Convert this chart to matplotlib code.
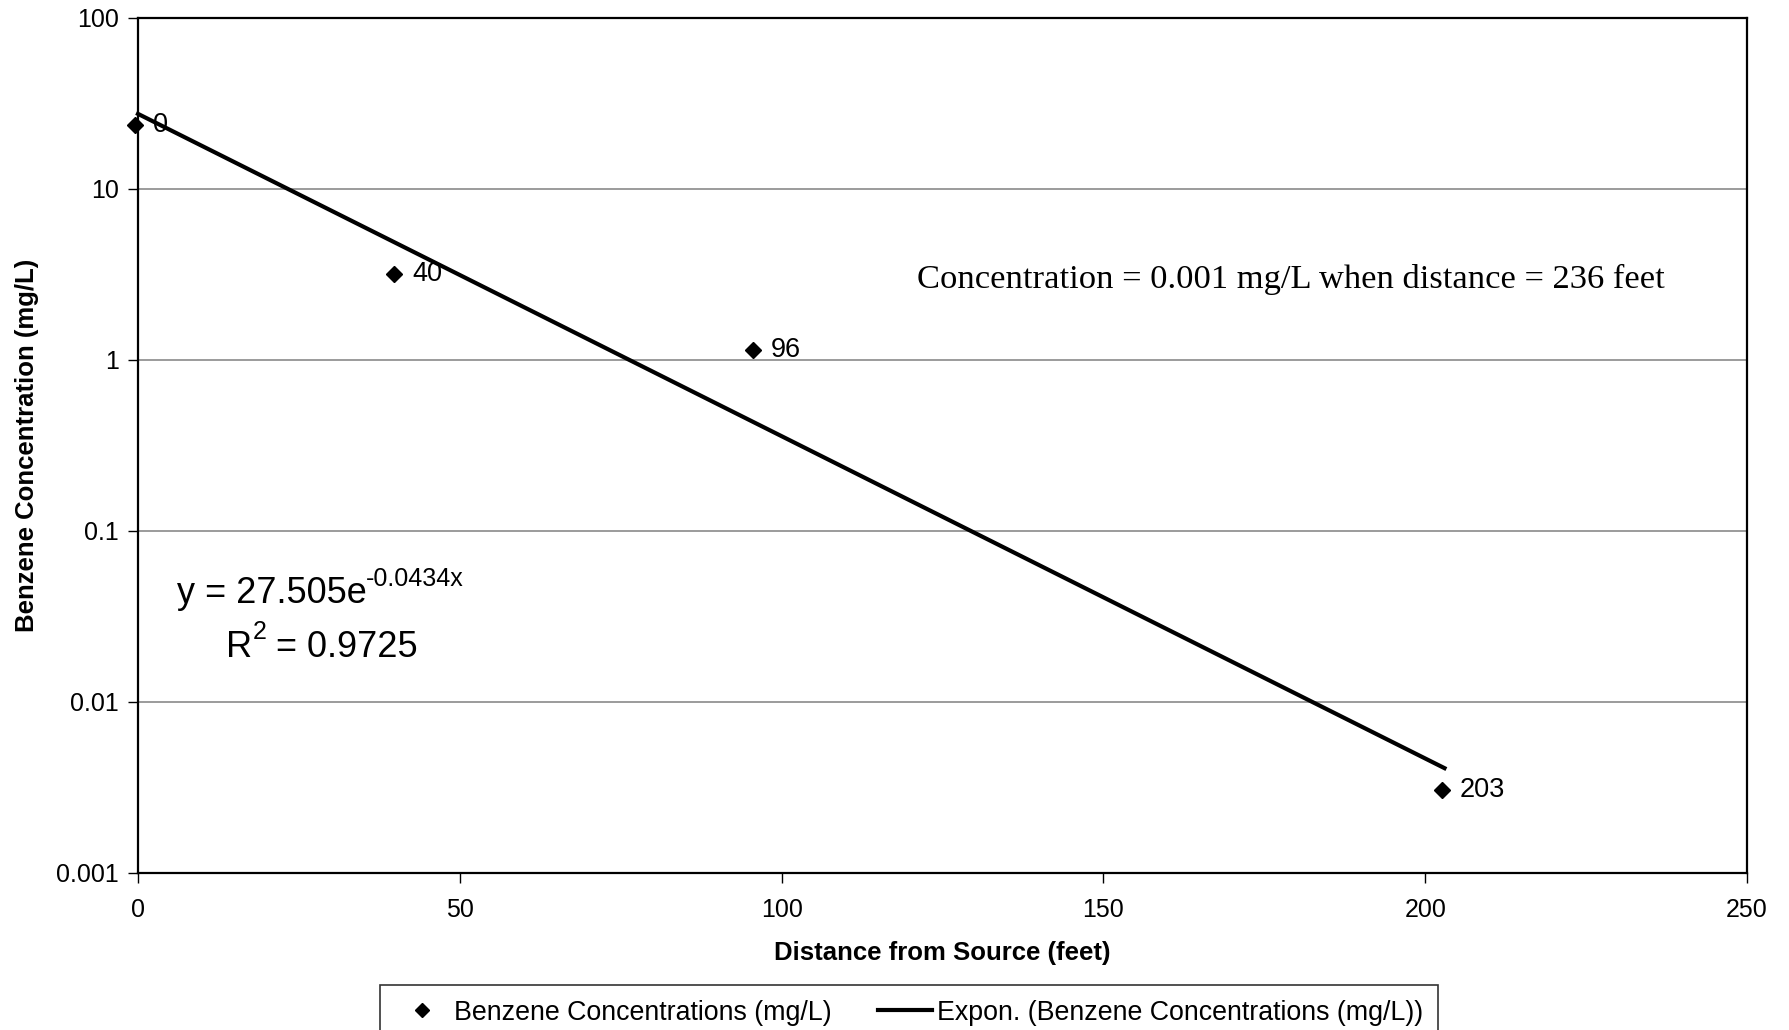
#!/usr/bin/env python3
"""Benzene concentration vs distance from source, log-scale with exponential trend."""
import numpy as np
import matplotlib
matplotlib.use("Agg")
import matplotlib.pyplot as plt
from matplotlib.lines import Line2D

plt.rcParams["font.family"] = ["Liberation Sans", "DejaVu Sans"]

# data
distance = [-0.5, 39.8, 95.5, 202.6]
concentration = [23.7, 3.18, 1.14, 0.00306]
point_labels = ["0", "40", "96", "203"]

# exponential trend fit shown on the chart
fit_a = 27.505
fit_b = -0.0434
fit_x = [0, 203]

x_ticks = [0, 50, 100, 150, 200, 250]
y_ticks = [0.001, 0.01, 0.1, 1, 10, 100]
y_tick_labels = ["0.001", "0.01", "0.1", "1", "10", "100"]

W, H = 1790, 1030
fig = plt.figure(figsize=(W / 100, H / 100), dpi=100)
left, right, top, bottom = 138, 1747, 18, 873
ax = fig.add_axes([left / W, 1 - bottom / H, (right - left) / W, (bottom - top) / H])

ax.set_yscale("log")
ax.set_xlim(0, 250)
ax.set_ylim(0.001, 100)
ax.set_xticks(x_ticks)
ax.set_xticklabels([str(t) for t in x_ticks])
ax.set_yticks(y_ticks)
ax.set_yticklabels(y_tick_labels)
ax.minorticks_off()
ax.tick_params(axis="both", labelsize=18, length=7, width=1, color="black", direction="out")
ax.tick_params(axis="y", pad=7)
ax.tick_params(axis="x", pad=11)

for y in y_ticks[1:-1]:
    ax.axhline(y, color="#808080", lw=1.1, zorder=1)
for s in ax.spines.values():
    s.set_color("black")
    s.set_linewidth(1.6)

xs = np.linspace(fit_x[0], fit_x[1], 200)
ax.plot(xs, fit_a * np.exp(fit_b * xs), color="black", lw=3, zorder=3, clip_on=False)
ax.plot(distance, concentration, ls="none", marker="D", ms=8, color="black", zorder=4,
        clip_on=False)
for x, y, lab in zip(distance, concentration, point_labels):
    ax.annotate(lab, (x, y), xytext=(13, 0), textcoords="offset points",
                ha="left", va="center", fontsize=19.5, annotation_clip=False)

ax.set_xlabel("Distance from Source (feet)", fontsize=18.5, fontweight="bold", labelpad=14)
ax.set_ylabel("Benzene Concentration (mg/L)", fontsize=18.5, fontweight="bold", labelpad=12)

# trend equation, superscripts as separate small texts
eq1 = ax.text(0.024, 0.316, "y = 27.505e", transform=ax.transAxes,
              ha="left", va="baseline", fontsize=26)
ax.annotate("-0.0434x", xy=(1, 1), xycoords=eq1, xytext=(0, -2), textcoords="offset points",
            ha="left", va="center", fontsize=18)
eq2 = ax.text(0.055, 0.253, "R", transform=ax.transAxes,
              ha="left", va="baseline", fontsize=26)
sup2 = ax.annotate("2", xy=(1, 1), xycoords=eq2, xytext=(0, -2), textcoords="offset points",
                   ha="left", va="center", fontsize=18)
ax.annotate(" = 0.9725", xy=(1, 0), xycoords=(sup2, eq2),
            ha="left", va="bottom", fontsize=26)

ax.text(0.484, 0.694, "Concentration = 0.001 mg/L when distance = 236 feet",
        transform=ax.transAxes, ha="left", va="center", fontsize=24.8,
        family=["Liberation Serif", "DejaVu Serif"])

handles = [
    Line2D([], [], ls="none", marker="D", ms=7, color="black"),
    Line2D([], [], color="black", lw=3),
]
leg = fig.legend(handles, ["Benzene Concentrations (mg/L)", "Expon. (Benzene Concentrations (mg/L))"],
                 loc="upper left", bbox_to_anchor=(380 / W, 1 - 985 / H), ncol=2,
                 fontsize=19.3, frameon=True, fancybox=False, edgecolor="black",
                 handlelength=2.0, handletextpad=0.2, columnspacing=1.75,
                 borderpad=0.55, borderaxespad=0)
leg.get_frame().set_linewidth(1.2)

fig.savefig("out.png", dpi=100, facecolor="white")
